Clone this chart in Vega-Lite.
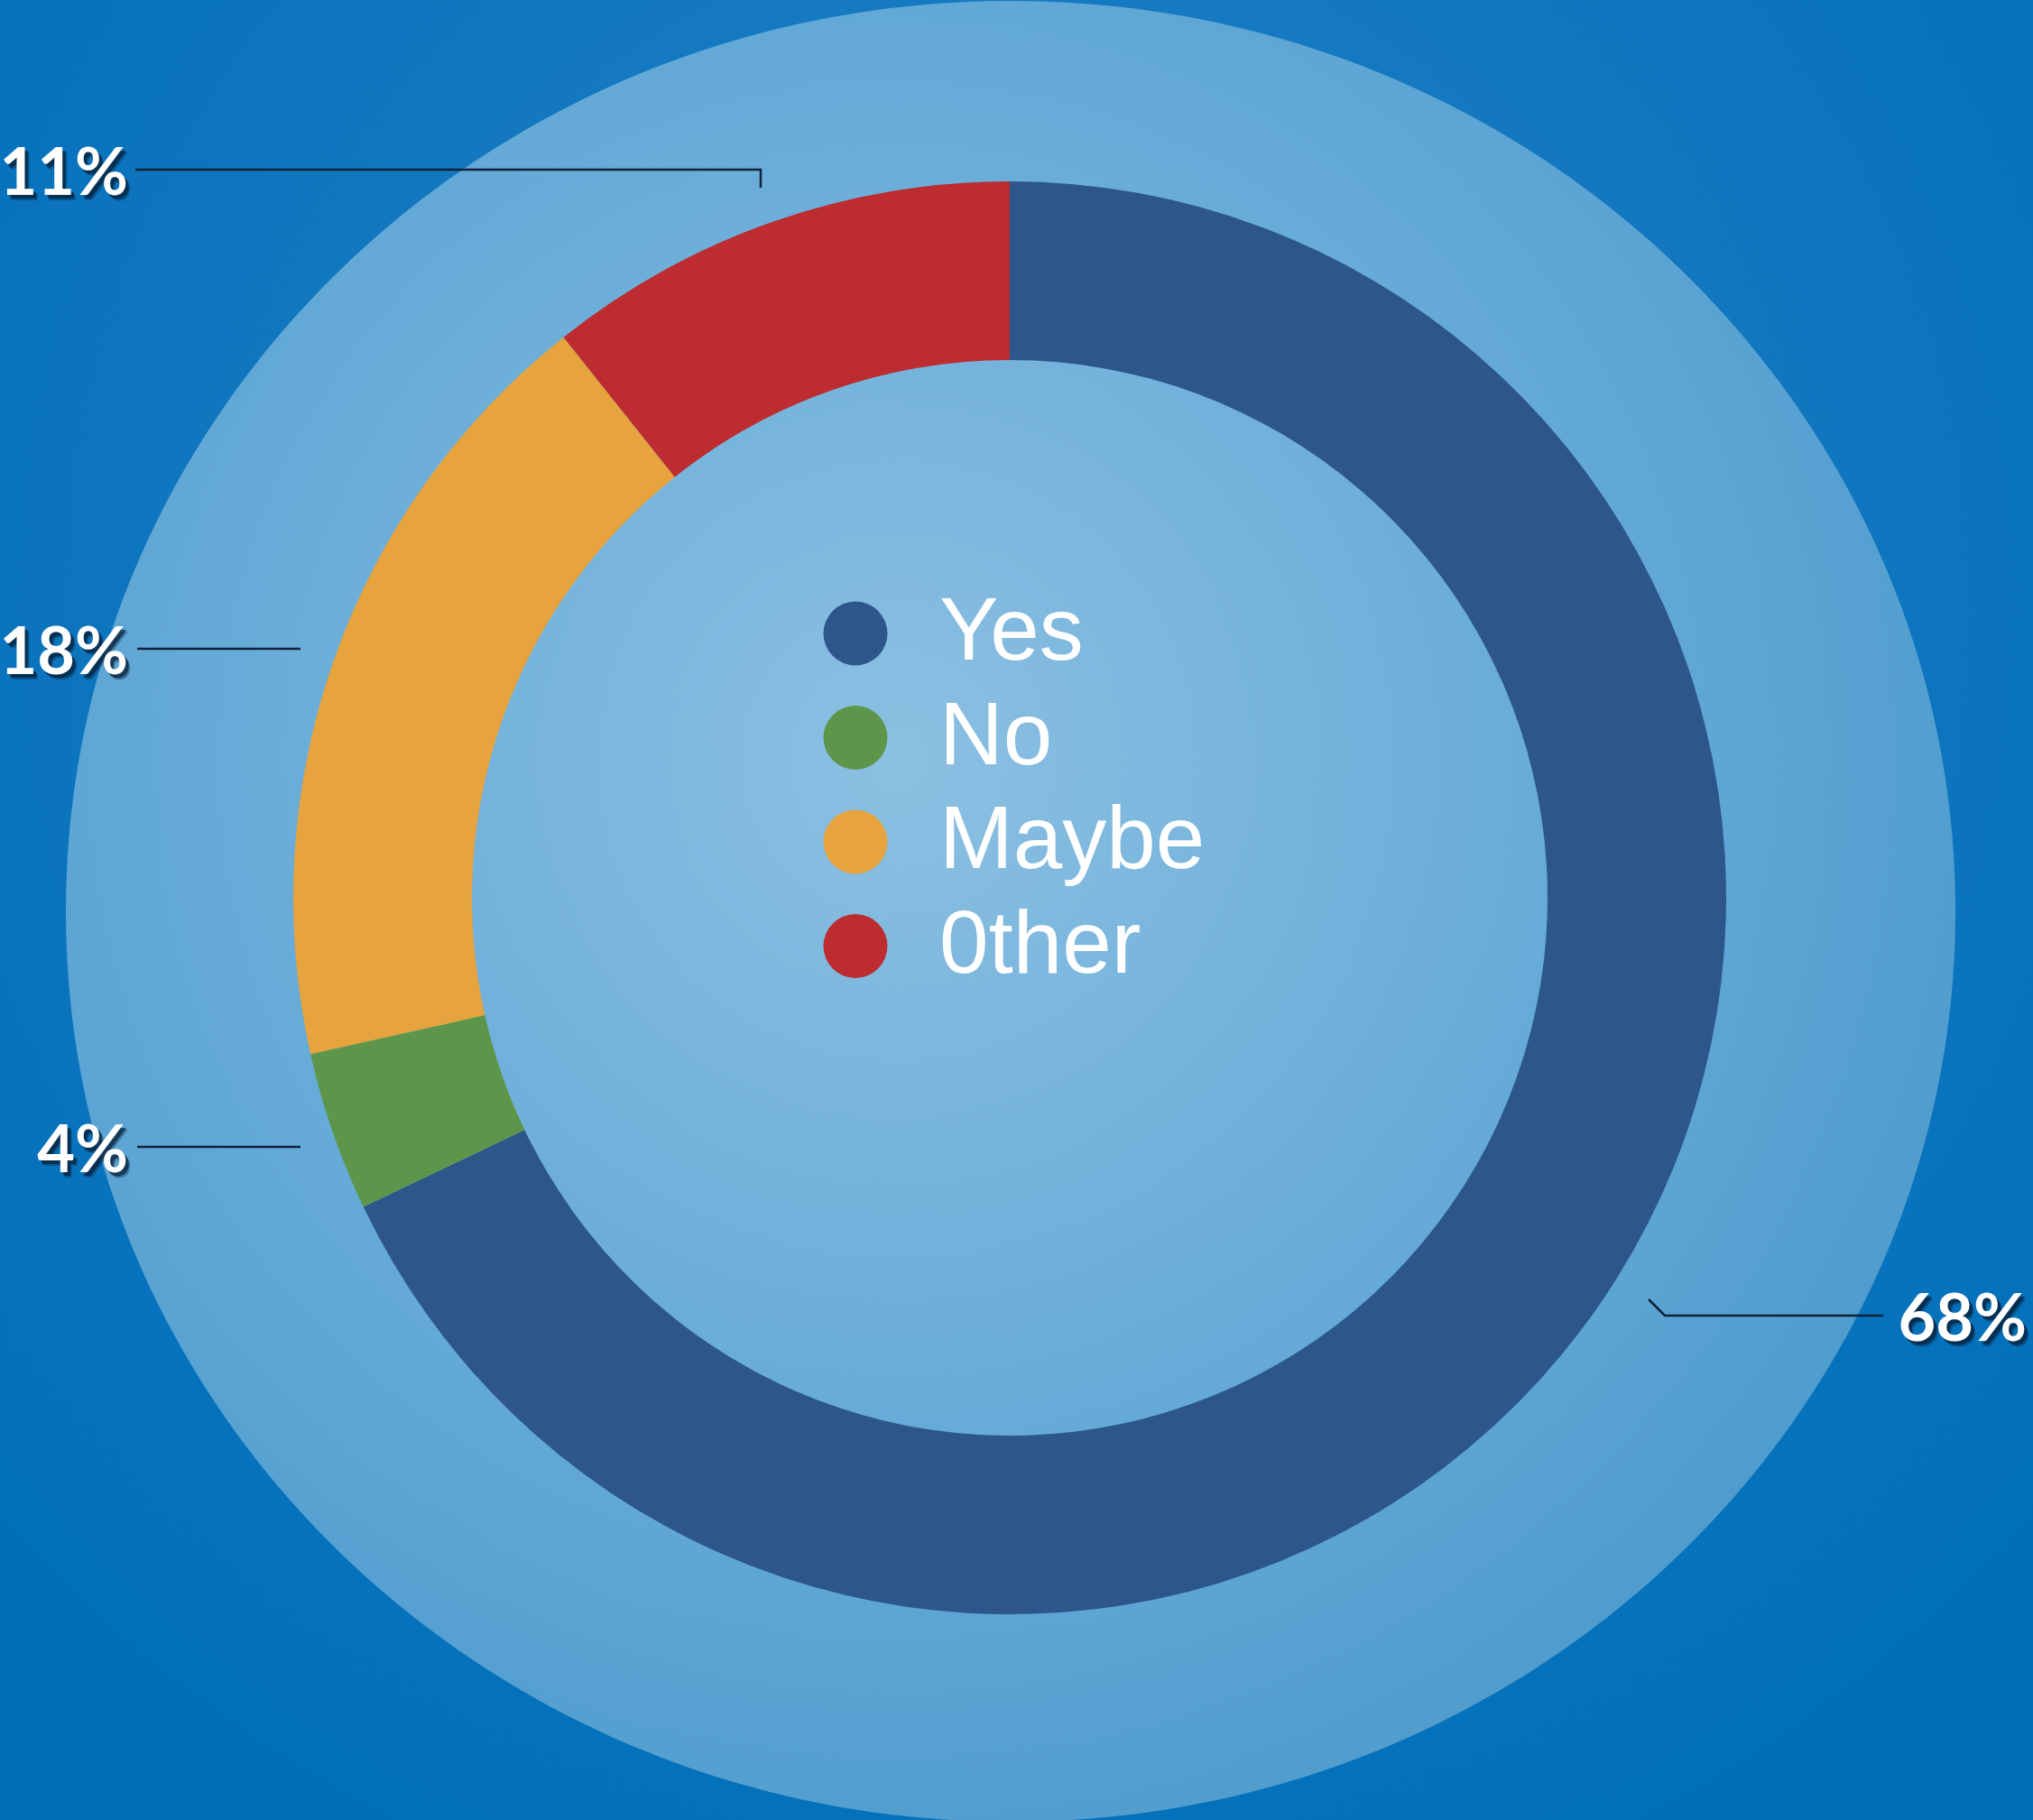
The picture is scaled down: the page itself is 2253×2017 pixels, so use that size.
{
  "$schema": "https://vega.github.io/schema/vega-lite/v6.json",
  "width": 2253,
  "height": 2017,
  "autosize": {"type": "none"},
  "padding": 0,
  "background": "#0071bb",
  "config": {
    "view": {
      "stroke": null,
      "fill": {
        "gradient": "radial",
        "x1": 0.5, "y1": 0.35, "r1": 0,
        "x2": 0.5, "y2": 0.35, "r2": 0.68,
        "stops": [
          {"offset": 0, "color": "#2489cd"},
          {"offset": 0.5, "color": "#1378c0"},
          {"offset": 1, "color": "#006fba"}
        ]
      }
    }
  },
  "datasets": {
    "shares": [
      {"answer": "Yes", "share": 67.9, "pos": 1},
      {"answer": "No", "share": 3.6, "pos": 2},
      {"answer": "Maybe", "share": 17.8, "pos": 3},
      {"answer": "0ther", "share": 10.7, "pos": 4}
    ],
    "labels": [
      {"text": "11%", "x": 142, "y": 216},
      {"text": "18%", "x": 142, "y": 747},
      {"text": "4%", "x": 142, "y": 1299},
      {"text": "68%", "x": 2246, "y": 1486}
    ],
    "leaders": [
      {"seg": "Other", "i": 0, "x": 150, "y": 188},
      {"seg": "Other", "i": 1, "x": 843, "y": 188},
      {"seg": "Other", "i": 2, "x": 843, "y": 208},
      {"seg": "Maybe", "i": 0, "x": 152, "y": 719},
      {"seg": "Maybe", "i": 1, "x": 333, "y": 719},
      {"seg": "No", "i": 0, "x": 152, "y": 1271},
      {"seg": "No", "i": 1, "x": 333, "y": 1271},
      {"seg": "Yes", "i": 0, "x": 2087, "y": 1458},
      {"seg": "Yes", "i": 1, "x": 1845, "y": 1458},
      {"seg": "Yes", "i": 2, "x": 1827, "y": 1440}
    ]
  },
  "layer": [
    {
      "data": {"values": [{"item": "backdrop"}]},
      "mark": {
        "type": "point",
        "shape": "M-1,0A1,0.9637,0,1,0,1,0A1,0.9637,0,1,0,-1,0Z",
        "size": 4384836,
        "filled": true,
        "opacity": 1,
        "strokeWidth": 0,
        "fill": {
          "gradient": "radial",
          "x1": 0.44, "y1": 0.42, "r1": 0,
          "x2": 0.44, "y2": 0.42, "r2": 0.6,
          "stops": [
            {"offset": 0, "color": "#8cc0e2"},
            {"offset": 0.7, "color": "#60a7d6"},
            {"offset": 1, "color": "#4e9ccd"}
          ]
        }
      },
      "encoding": {
        "x": {"datum": 1120, "type": "quantitative", "scale": {"domain": [0, 2253], "nice": false, "zero": false}, "axis": null},
        "y": {"datum": 1010, "type": "quantitative", "scale": {"domain": [0, 2017], "reverse": true, "nice": false, "zero": false}, "axis": null}
      }
    },
    {
      "data": {"name": "shares"},
      "mark": {"type": "arc", "radius": 794, "innerRadius": 596, "strokeWidth": 0},
      "encoding": {
        "theta": {"field": "share", "type": "quantitative", "stack": true},
        "order": {"field": "pos", "type": "quantitative"},
        "color": {
          "field": "answer",
          "type": "nominal",
          "sort": null,
          "scale": {"domain": ["Yes", "No", "Maybe", "0ther"], "range": ["#2d578a", "#5d964a", "#e6a33e", "#bc2c31"]},
          "legend": {
            "orient": "none",
            "legendX": 899,
            "legendY": 653,
            "title": null,
            "symbolType": "circle",
            "symbolSize": 5041,
            "symbolStrokeWidth": 0,
            "symbolOpacity": 1,
            "labelFontSize": 98,
            "labelFont": "Liberation Sans",
            "labelColor": "#ffffff",
            "labelOffset": 44,
            "labelLimit": 0,
            "rowPadding": 17.5
          }
        },
        "x": {"datum": 1119, "type": "quantitative", "scale": {"domain": [0, 2253], "nice": false, "zero": false}, "axis": null},
        "y": {"datum": 995, "type": "quantitative", "scale": {"domain": [0, 2017], "reverse": true, "nice": false, "zero": false}, "axis": null}
      }
    },
    {
      "data": {"name": "leaders"},
      "mark": {"type": "line", "color": "#0f2238", "strokeWidth": 2.5, "strokeJoin": "miter"},
      "encoding": {
        "x": {"field": "x", "type": "quantitative", "scale": {"domain": [0, 2253], "nice": false, "zero": false}, "axis": null},
        "y": {"field": "y", "type": "quantitative", "scale": {"domain": [0, 2017], "reverse": true, "nice": false, "zero": false}, "axis": null},
        "detail": {"field": "seg"},
        "order": {"field": "i", "type": "quantitative"}
      }
    },
    {
      "data": {"name": "labels"},
      "mark": {"type": "text", "align": "right", "baseline": "alphabetic", "font": "Lato", "fontSize": 72, "fontWeight": "bold", "color": "#06203a", "opacity": 0.35, "dx": 5, "dy": 6},
      "encoding": {
        "x": {"field": "x", "type": "quantitative", "scale": {"domain": [0, 2253], "nice": false, "zero": false}, "axis": null},
        "y": {"field": "y", "type": "quantitative", "scale": {"domain": [0, 2017], "reverse": true, "nice": false, "zero": false}, "axis": null},
        "text": {"field": "text"}
      }
    },
    {
      "data": {"name": "labels"},
      "mark": {"type": "text", "align": "right", "baseline": "alphabetic", "font": "Lato", "fontSize": 72, "fontWeight": "bold", "color": "#06203a", "opacity": 0.7, "dx": 3.5, "dy": 4},
      "encoding": {
        "x": {"field": "x", "type": "quantitative", "scale": {"domain": [0, 2253], "nice": false, "zero": false}, "axis": null},
        "y": {"field": "y", "type": "quantitative", "scale": {"domain": [0, 2017], "reverse": true, "nice": false, "zero": false}, "axis": null},
        "text": {"field": "text"}
      }
    },
    {
      "data": {"name": "labels"},
      "mark": {"type": "text", "align": "right", "baseline": "alphabetic", "font": "Lato", "fontSize": 72, "fontWeight": "bold", "color": "#ffffff"},
      "encoding": {
        "x": {"field": "x", "type": "quantitative", "scale": {"domain": [0, 2253], "nice": false, "zero": false}, "axis": null},
        "y": {"field": "y", "type": "quantitative", "scale": {"domain": [0, 2017], "reverse": true, "nice": false, "zero": false}, "axis": null},
        "text": {"field": "text"}
      }
    }
  ]
}
